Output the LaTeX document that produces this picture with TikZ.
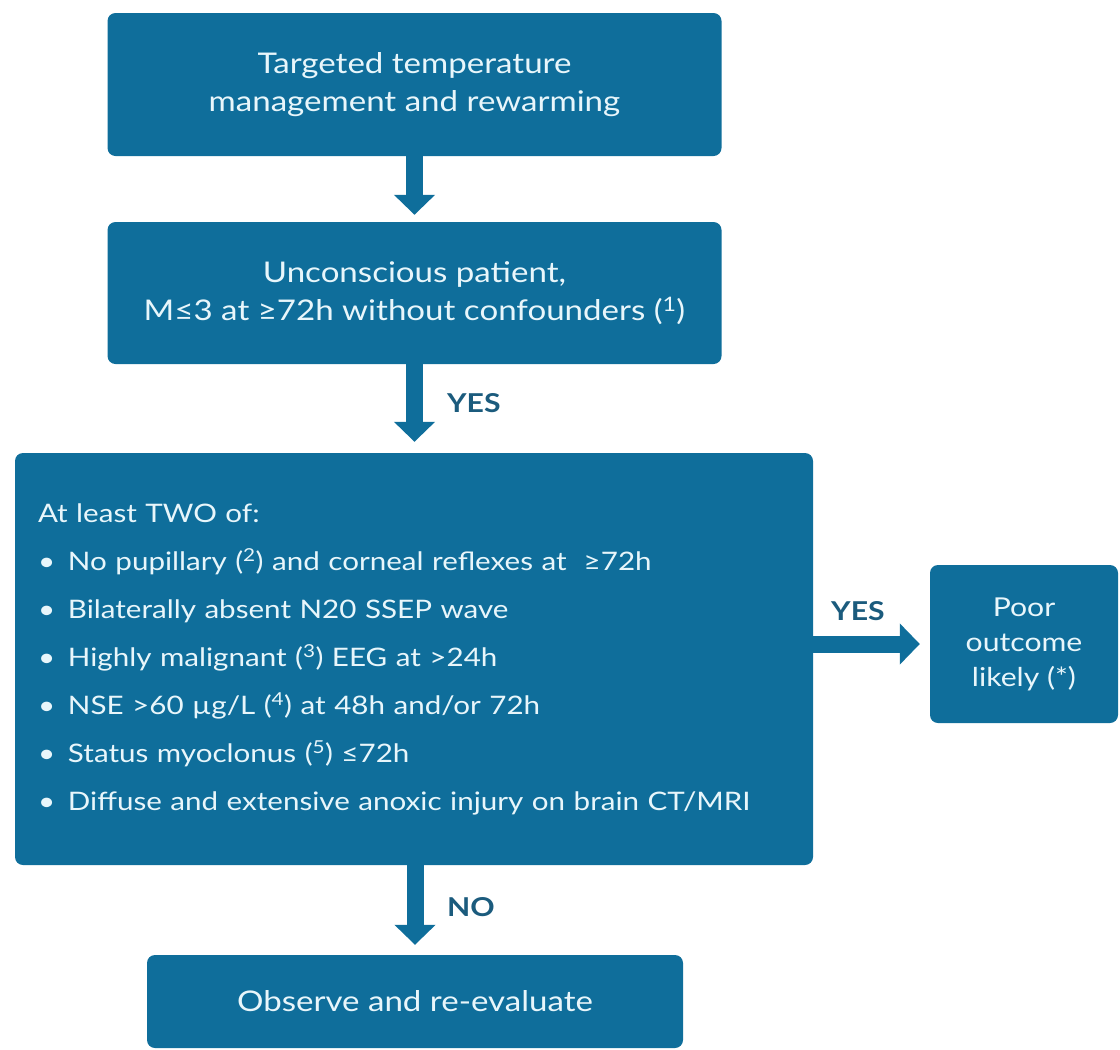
\documentclass[tikz,border=0pt]{standalone}
\usepackage{fontspec}
\setmainfont{Lato}[FakeStretch=1.16]
\usetikzlibrary{arrows.meta}
\definecolor{boxblue}{HTML}{0F6E9B}
\definecolor{txtwhite}{HTML}{E8F6FB}
\definecolor{lblblue}{HTML}{1B5B7D}
\newcommand{\bitem}{\par\makebox[30pt][l]{•}}
\begin{document}
\begin{tikzpicture}[x=1pt,y=-1pt,
  box/.style={draw=none,fill=boxblue,rounded corners=8pt,text=txtwhite,align=center,inner sep=0pt},
  big/.style={font=\fontsize{28.5}{38}\selectfont},
  arr/.style={draw=boxblue,line width=17pt,-{Triangle[width=40pt 0,length=20pt 0]}},
  lbl/.style={text=lblblue,font=\fontsize{26}{30}\selectfont\bfseries,anchor=west,inner sep=0pt}]
\useasboundingbox (0,0) rectangle (1120,1050);
\node[box,big,minimum width=614pt,minimum height=143pt] (b1) at (414.5,84.5)
  {Targeted temperature\\management and rewarming};
\node[box,big,minimum width=614pt,minimum height=142pt] (b2) at (414.5,293)
  {Unconscious patient,\\M≤3 at ≥72h without confounders (\textsuperscript{1})};
\node[box,minimum width=798pt,minimum height=412pt,align=left,text width=752pt,inner xsep=23pt,
  font=\fontsize{25.5}{48}\selectfont] (b3) at (414,659)
  {At least TWO of:
   \bitem No pupillary (\textsuperscript{2}) and corneal reflexes at\ \ ≥72h
   \bitem Bilaterally absent N20 SSEP wave
   \bitem Highly malignant (\textsuperscript{3}) EEG at >24h
   \bitem NSE >60 µg/L (\textsuperscript{4}) at 48h and/or 72h
   \bitem Status myoclonus (\textsuperscript{5}) ≤72h
   \bitem Diffuse and extensive anoxic injury on brain CT/MRI};
\node[box,minimum width=188pt,minimum height=158pt,font=\fontsize{26}{35}\selectfont] (b4) at (1024,644)
  {Poor\\outcome\\likely (*)};
\node[box,big,minimum width=536pt,minimum height=93pt] (b5) at (415,1001.5)
  {Observe and re-evaluate};
\draw[arr,shorten >=7pt] (b1.south) -- (b2.north);
\draw[arr,shorten >=11pt] (b2.south) -- (b3.north -| b2.south);
\draw[arr,shorten >=10pt] (b3.east |- b4.west) -- (b4.west);
\draw[arr,shorten >=10pt] (b3.south -| b5.north) -- (b5.north);
\node[lbl] (yes1) at (447,403) {YES};
\node[lbl] (yes2) at (831,611) {YES};
\node[lbl] (no1) at (447,907) {NO};
\end{tikzpicture}
\end{document}
